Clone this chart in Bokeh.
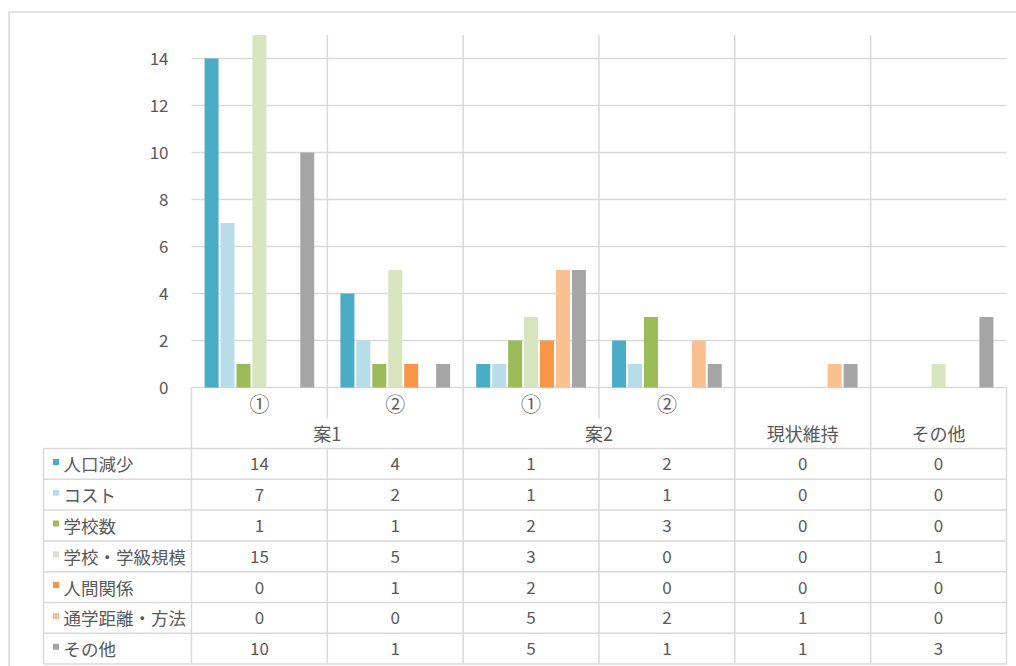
from bokeh.plotting import figure
from bokeh.models import Range1d, LinearAxis, FixedTicker, ColumnDataSource
from bokeh.core.properties import value
from bokeh.embed import file_html
from bokeh.resources import INLINE

# ---------------- data ----------------
cat_sub = ["①", "②", "①", "②", "", ""]
cat_group = ["案1", "案1", "案2", "案2", "現状維持", "その他"]

series = ["人口減少", "コスト", "学校数", "学校・学級規模", "人間関係", "通学距離・方法", "その他"]
jinkou = [14, 4, 1, 2, 0, 0]
cost = [7, 2, 1, 1, 0, 0]
gakkousu = [1, 1, 2, 3, 0, 0]
kibo = [15, 5, 3, 0, 0, 1]
ningen = [0, 1, 2, 0, 0, 0]
tsugaku = [0, 0, 5, 2, 1, 0]
sonota = [10, 1, 5, 1, 1, 3]
values_list = [jinkou, cost, gakkousu, kibo, ningen, tsugaku, sonota]
colors = ["#4BACC6", "#B7DEE8", "#9BBB59", "#D7E4BD", "#F79646", "#FAC090", "#A5A5A5"]
y_ticks = [0, 2, 4, 6, 8, 10, 12, 14]
y_max = 15

# ---------------- layout (pixel scale helpers) ----------------
W, H = 1016, 666
PXX = 135.83          # px per category
PXY = 23.5            # px per value unit
X0_PX, Y0_PX = 191, 387   # position of (0,0) from canvas left/top
FONT = value("Noto Sans CJK JP")
TXT = "#595959"
GRID = "#D9D9D9"

def dx(px):
    return px / PXX

def dy(px):
    return px / PXY

n = len(cat_group)
p = figure(width=W, height=H, output_backend="svg", toolbar_location=None,
           x_range=Range1d(-X0_PX / PXX, (W - X0_PX) / PXX),
           y_range=Range1d(-(H - Y0_PX) / PXY, Y0_PX / PXY),
           x_axis_type=None, y_axis_type=None, min_border=0)
p.outline_line_color = None
p.background_fill_color = "white"
p.border_fill_color = "white"

# outer chart border (top and left)
border_top = dy(Y0_PX - 11.5)
border_left = -dx(X0_PX - 8.5)
p.segment(x0=[border_left, border_left], y0=[border_top, border_top],
          x1=[p.x_range.end, border_left], y1=[border_top, p.y_range.start],
          line_color=GRID, line_width=1.5)

# horizontal gridlines
p.segment(x0=[0] * len(y_ticks), y0=y_ticks, x1=[n] * len(y_ticks), y1=y_ticks,
          line_color=GRID, line_width=1.5)

# y axis placed at x=0 inside the frame
yax = LinearAxis(ticker=FixedTicker(ticks=y_ticks), fixed_location=0)
yax.axis_line_color = None
yax.major_tick_line_color = None
yax.minor_tick_line_color = None
yax.major_label_standoff = 17
yax.major_label_text_font = "Noto Sans CJK JP"
yax.major_label_text_font_size = "17px"
yax.major_label_text_color = TXT
p.add_layout(yax, "left")

# table geometry
sub_y = -dy(16)
short_end = -dy(31)
grp_y = -dy(45)
tbl_top = -dy(61)
row_h = dy(30.8)
tbl_bot = tbl_top - row_h * len(series)
tbl_left = -dx(148)

# vertical lines
vx0, vy0, vx1, vy1 = [], [], [], []
for b in range(n + 1):
    if b == 0 or b == n:
        vx0.append(b); vy0.append(0); vx1.append(b); vy1.append(tbl_bot)
    elif cat_group[b - 1] == cat_group[b]:
        vx0 += [b, b]; vy0 += [y_max, tbl_top]; vx1 += [b, b]; vy1 += [short_end, tbl_bot]
    else:
        vx0.append(b); vy0.append(y_max); vx1.append(b); vy1.append(tbl_bot)
vx0.append(tbl_left); vy0.append(tbl_top); vx1.append(tbl_left); vy1.append(tbl_bot)
p.segment(x0=vx0, y0=vy0, x1=vx1, y1=vy1, line_color=GRID, line_width=1.5)

# table horizontal lines
hy = [tbl_top - k * row_h for k in range(len(series) + 1)]
p.segment(x0=[tbl_left] * len(hy), y0=hy, x1=[n] * len(hy), y1=hy,
          line_color=GRID, line_width=1.5)

# bars
STEP = 0.1174
BW = 0.103
ns = len(series)
for j, (name, vals, col) in enumerate(zip(series, values_list, colors)):
    xs = [i + 0.5 + (j - (ns - 1) / 2) * STEP for i in range(n)]
    src = ColumnDataSource(dict(x=xs, top=vals))
    p.vbar(x="x", top="top", width=BW, bottom=0, source=src,
           fill_color=col, line_color=None)

# header labels
sx = [i + 0.5 for i in range(n) if cat_sub[i]]
st = [cat_sub[i] for i in range(n) if cat_sub[i]]
p.text(x=sx, y=[sub_y] * len(sx), text=st, text_align="center", text_baseline="middle",
       text_font=FONT, text_font_size="20px", text_color=TXT)

groups = []
for g in cat_group:
    if g not in groups:
        groups.append(g)
gx = [sum(i + 0.5 for i in range(n) if cat_group[i] == g) / cat_group.count(g) for g in groups]
p.text(x=gx, y=[grp_y] * len(groups), text=groups, text_align="center", text_baseline="middle",
       text_font=FONT, text_font_size="18px", text_color=TXT)

# table rows
for r, (name, vals, col) in enumerate(zip(series, values_list, colors)):
    yc = tbl_top - (r + 0.5) * row_h
    p.scatter(x=[tbl_left + dx(12.5)], y=[yc + dy(2)], marker="square", size=6,
              fill_color=col, line_color=None)
    p.text(x=[tbl_left + dx(20)], y=[yc], text=[name], text_align="left", text_baseline="middle",
           text_font=FONT, text_font_size="17.5px", text_color=TXT)
    p.text(x=[i + 0.5 for i in range(n)], y=[yc] * n, text=[str(v) for v in vals],
           text_align="center", text_baseline="middle",
           text_font=FONT, text_font_size="17px", text_color=TXT)

open("out.html", "w").write(file_html(p, INLINE))
